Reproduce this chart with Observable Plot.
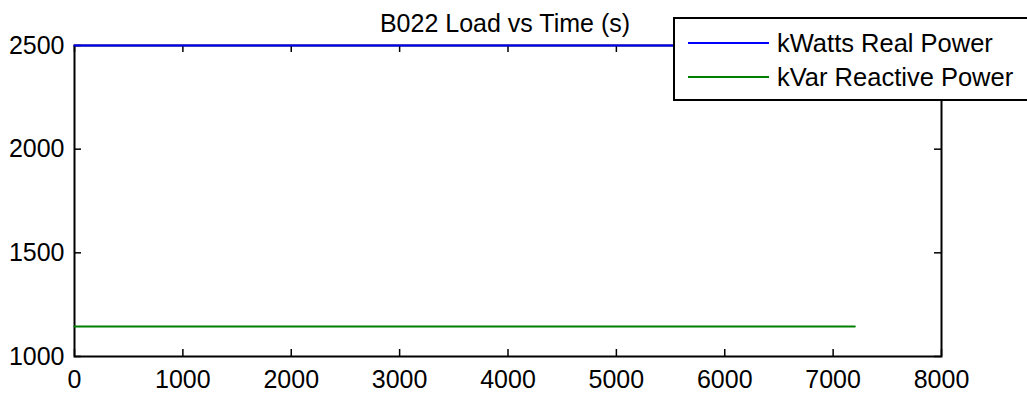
<!DOCTYPE html>
<html><head><meta charset="utf-8">
<script src="https://cdn.jsdelivr.net/npm/d3@7"></script>
<script src="https://cdn.jsdelivr.net/npm/@observablehq/plot@0.6"></script>
<style>
body{margin:0;background:#fff;font-family:"Liberation Sans",Arial,sans-serif;}
#wrap{position:relative;width:1027px;height:397px;overflow:hidden;}
#legend{position:absolute;left:673px;top:17px;width:360px;height:84px;border:2px solid #000;background:#fff;box-sizing:border-box;}
.row{position:absolute;left:0;height:30px;display:flex;align-items:center;font-size:25.5px;color:#000;white-space:nowrap;}
.sw{display:inline-block;width:81px;height:2px;margin-left:13px;margin-right:8px;}
</style></head>
<body><div id="wrap"></div>
<script>
const title = "B022 Load vs Time (s)";
const seriesNames = ["kWatts Real Power", "kVar Reactive Power"];
const timeS = [0, 7200];
const kWatts = [2500, 2500];
const kVar = [1145, 1145];
const xTicks = [0, 1000, 2000, 3000, 4000, 5000, 6000, 7000, 8000];
const yTicks = [1000, 1500, 2000, 2500];

const colors = ["#0000ff", "#008000"];
const W = 1027, H = 397, mL = 74, mR = 86, mT = 45, mB = 41;
const iw = W - mL - mR, ih = H - mT - mB, tk = 7;

const rows = [];
timeS.forEach((t, i) => {
  rows.push({series: seriesNames[0], t, v: kWatts[i]});
  rows.push({series: seriesNames[1], t, v: kVar[i]});
});

const fmt = d => String(d);
const chart = Plot.plot({
  width: W, height: H,
  marginLeft: mL, marginRight: mR, marginTop: mT, marginBottom: mB,
  x: {domain: [xTicks[0], xTicks[xTicks.length - 1]]},
  y: {domain: [yTicks[0], yTicks[yTicks.length - 1]]},
  color: {domain: seriesNames, range: colors},
  style: {fontFamily: '"Liberation Sans", Arial, sans-serif', fontSize: "25px", color: "#000", background: "#fff"},
  marks: [
    Plot.axisX(xTicks, {tickSize: 0, tickPadding: 14, fontSize: 25, tickFormat: fmt, label: null}),
    Plot.axisY(yTicks, {tickSize: 0, tickPadding: 10, fontSize: 25, tickFormat: fmt, label: null}),
    Plot.ruleX(xTicks, {insetTop: ih - tk, stroke: "#000", strokeWidth: 1.5}),
    Plot.ruleX(xTicks, {insetBottom: ih - tk, stroke: "#000", strokeWidth: 1.5}),
    Plot.ruleY(yTicks, {insetRight: iw - tk, stroke: "#000", strokeWidth: 1.5}),
    Plot.ruleY(yTicks, {insetLeft: iw - tk, stroke: "#000", strokeWidth: 1.5}),
    Plot.frame({stroke: "#000", strokeWidth: 2}),
    Plot.line(rows, {x: "t", y: "v", z: "series", stroke: "series", strokeWidth: 2}),
    Plot.text([title], {frameAnchor: "top", dy: -31, dx: -3, fontSize: 25, fill: "#000"})
  ]
});
const wrap = document.getElementById("wrap");
wrap.appendChild(chart);

const lg = document.createElement("div");
lg.id = "legend";
seriesNames.forEach((n, i) => {
  const r = document.createElement("div");
  r.className = "row";
  r.style.top = (9 + i * 34) + "px";
  r.innerHTML = `<span class="sw" style="background:${colors[i]}"></span><span>${n}</span>`;
  lg.appendChild(r);
});
wrap.appendChild(lg);
</script></body></html>
